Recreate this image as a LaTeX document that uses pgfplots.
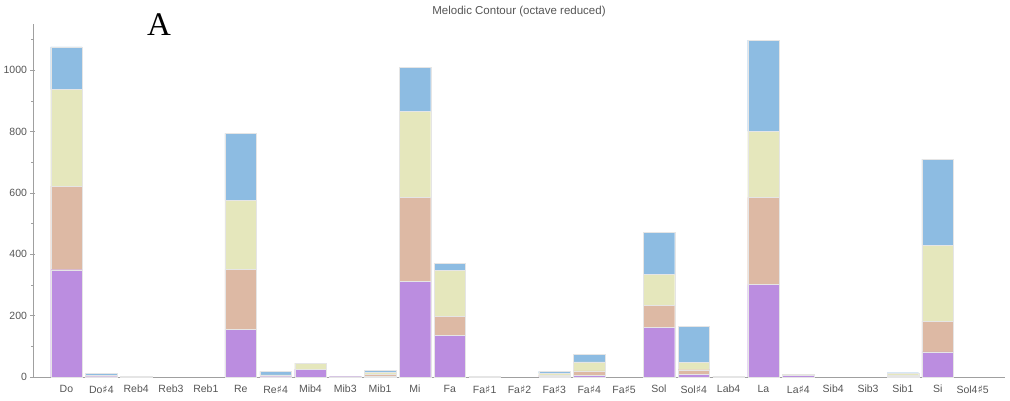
\documentclass[border=0pt]{standalone}
\usepackage{pgfplots}
\pgfplotsset{compat=1.18}
\usepackage{fontspec}
\setmainfont{Liberation Sans}
\newfontfamily\serifA{Liberation Serif}
\newfontfamily\dv{DejaVu Sans}
\newcommand{\sh}{{\dv\fontsize{11}{12}\selectfont ♯}}
\definecolor{pC}{HTML}{BB8DE0}
\definecolor{tC}{HTML}{DDB9A4}
\definecolor{yC}{HTML}{E5E7BC}
\definecolor{bC}{HTML}{8DBCE2}
\definecolor{axg}{HTML}{A0A0A0}
\definecolor{txg}{HTML}{555555}
% columns: purple tan yellow blue
\pgfplotstableread{
x p t y b
0 350 272 315 139
1 1 2 2 7
2 3 0 0 0
3 0 0 0 0
4 0 0 0 0
5 155 196 225 218
6 1 2 4 11
7 25 1 19 0
8 1 1 0 0
9 3 5 8 5
10 312 274 280 144
11 136 62 150 23
12 0 0 3 0
13 0 0 0 0
14 2 4 6 6
15 5 15 29 24
16 0 0 0 0
17 162 72 101 137
18 9 15 23 118
19 0 2 0 0
20 302 284 215 297
21 5 1 1 2
22 0 0 0 0
23 0 0 0 0
24 2 3 6 3
25 82 100 247 281
26 0 0 0 0
}\data
\begin{document}
\begin{tikzpicture}
\path[use as bounding box] (0,0) rectangle (1010pt,401pt);
\begin{axis}[
  at={(33pt,24pt)}, anchor=south west,
  scale only axis, width=972pt, height=352.7pt,
  xmin=-0.96, xmax=26.93, ymin=0, ymax=1150,
  ybar stacked, bar width=31.5pt,
  axis lines=left, axis line style={axg, line width=0.6pt, -},
  xtick={0,...,26},
  xticklabels={Do,Do\sh4,Reb4,Reb3,Reb1,Re,Re\sh4,Mib4,Mib3,Mib1,Mi,Fa,Fa\sh1,Fa\sh2,Fa\sh3,Fa\sh4,Fa\sh5,Sol,Sol\sh4,Lab4,La,La\sh4,Sib4,Sib3,Sib1,Si,Sol4\sh5},
  x tick style={draw=none},
  extra x ticks={0.5,1.5,...,25.5},
  extra x tick labels={},
  extra x tick style={tick style={draw=axg, line width=0.5pt}, major tick length=6pt, tick align=outside},
  xticklabel style={font=\fontsize{10.5}{12}\selectfont, text=txg, yshift=-2pt},
  ytick={0,200,...,1000},
  minor ytick={100,300,...,1100},
  y tick style={axg, line width=0.5pt},
  major tick length=5pt, minor tick length=3pt,
  yticklabel style={font=\fontsize{10.5}{12}\selectfont, text=txg, /pgf/number format/1000 sep={}},
  /pgf/number format/assume math mode=true,
  clip=false,
  every axis plot/.append style={draw=white!80!gray, line width=0.25pt},
]
\addplot[fill=pC] table[x=x,y=p]{\data};
\addplot[fill=tC] table[x=x,y=t]{\data};
\addplot[fill=yC] table[x=x,y=y]{\data};
\addplot[fill=bC] table[x=x,y=b]{\data};
\end{axis}
\node[text=txg, font=\fontsize{11.5}{13}\selectfont] at (519pt,389pt) {Melodic Contour (octave reduced)};
\node[anchor=base, font=\serifA\fontsize{33}{36}\selectfont] at (159pt,365pt) {A};
\end{tikzpicture}
\end{document}
